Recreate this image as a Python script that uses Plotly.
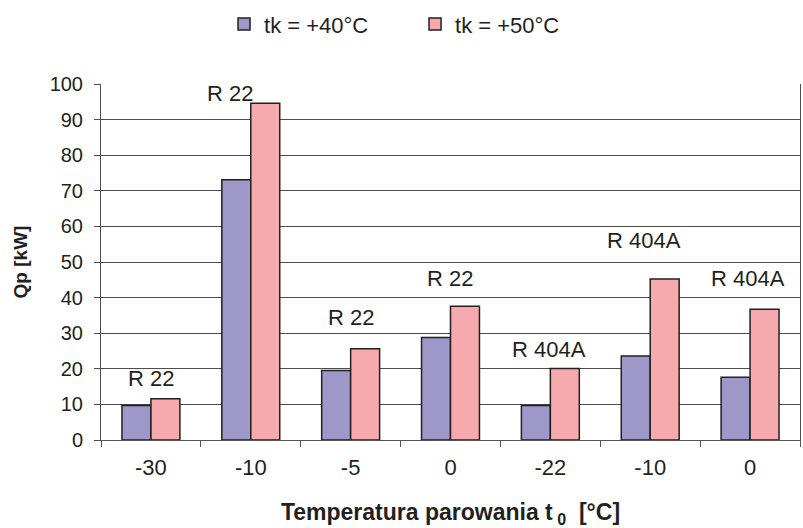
import plotly.graph_objects as go

# Evaporation temperature per group and refrigerant used
categories = ["-30", "-10", "-5", "0", "-22", "-10", "0"]
refrigerants = ["R 22", "R 22", "R 22", "R 22", "R 404A", "R 404A", "R 404A"]

# Cooling capacity Qp [kW] for two condensing temperatures
qp_tk40 = [9.7, 73.1, 19.5, 28.8, 9.7, 23.6, 17.6]
qp_tk50 = [11.6, 94.6, 25.6, 37.6, 20.1, 45.2, 36.7]

series_names = ["tk = +40°C", "tk = +50°C"]
y_ticks = [0, 10, 20, 30, 40, 50, 60, 70, 80, 90, 100]

x_pos = list(range(len(categories)))

FONT = "Liberation Sans, Arial, sans-serif"
TXT = "#231f20"
EDGE = "#231f20"

fig = go.Figure()
fig.add_trace(go.Bar(
    x=x_pos, y=qp_tk40, name=series_names[0],
    marker=dict(color="#9d98c8", line=dict(color=EDGE, width=1.5)),
))
fig.add_trace(go.Bar(
    x=x_pos, y=qp_tk50, name=series_names[1],
    marker=dict(color="#f6aaad", line=dict(color=EDGE, width=1.5)),
))

# refrigerant label placement: (horizontal shift in px, height in axis units)
label_place = [(0, 17.2), (-21, 97.4), (0, 34.3), (-1, 45.4), (-1, 25.5), (-6, 56.0), (-2, 45.4)]
for i, (txt, (dx, yy)) in enumerate(zip(refrigerants, label_place)):
    fig.add_annotation(x=x_pos[i], y=yy, text=txt, showarrow=False, xshift=dx,
                       font=dict(family=FONT, size=22, color=TXT))

fig.update_layout(
    width=803, height=528,
    margin=dict(l=101, r=3, t=79, b=88),
    paper_bgcolor="white", plot_bgcolor="white",
    barmode="group", bargap=0.42, bargroupgap=0,
    font=dict(family=FONT, size=20, color=TXT),
    showlegend=True,
    legend=dict(orientation="h", x=0.176, xanchor="left", y=1.168, yanchor="middle",
                font=dict(family=FONT, size=22, color=TXT),
                entrywidth=146, entrywidthmode="pixels", traceorder="normal"),
    xaxis=dict(
        range=[-0.5, 6.5], tickmode="array", tickvals=x_pos, ticktext=categories,
        showgrid=False, zeroline=False, showline=True, linecolor="#555", linewidth=1,
        ticks="", ticklen=0, ticklabelstandoff=8,
        minor=dict(tickmode="array", tickvals=[i + 0.5 for i in range(-1, len(categories))],
                   ticks="outside", ticklen=6, tickcolor="#555", tickwidth=1),
        tickfont=dict(family=FONT, size=22, color=TXT),
        title=dict(text="<b>Temperatura parowania t<sub> 0</sub>  [°C]</b>", standoff=26,
                   font=dict(family=FONT, size=23, color=TXT)),
    ),
    yaxis=dict(
        range=[0, 100], tickmode="array", tickvals=y_ticks,
        showgrid=True, gridcolor="#4d4d4d", gridwidth=1,
        zeroline=False, showline=True, linecolor="#4d4d4d", linewidth=1, mirror=True,
        ticks="outside", ticklen=6, tickcolor="#4d4d4d", ticklabelstandoff=7,
        tickfont=dict(family=FONT, size=20, color=TXT),
        title=dict(text="<b>Qp [kW]</b>", standoff=16,
                   font=dict(family=FONT, size=19, color=TXT)),
    ),
)

fig.write_html("out.html")
